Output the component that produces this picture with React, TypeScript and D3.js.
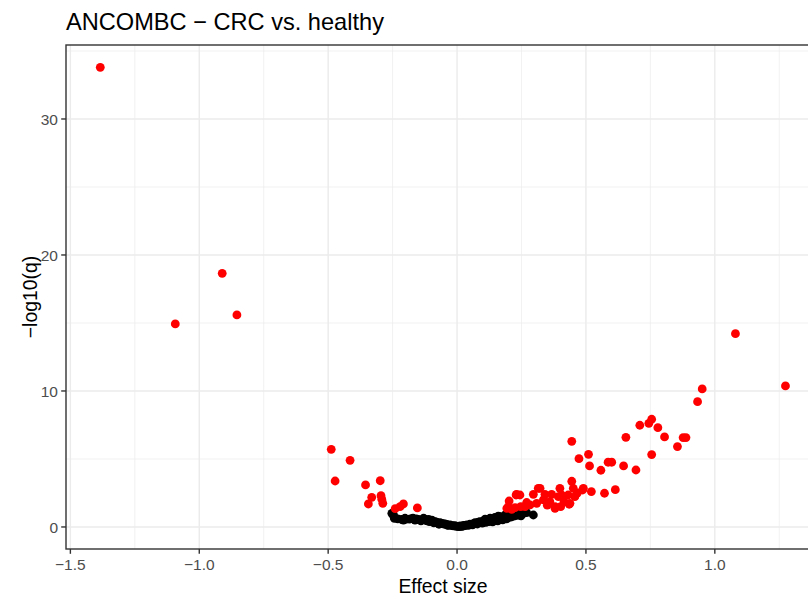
import React, { useEffect, useRef } from "react";
import * as d3 from "d3";

// effect size (lfc) and -log10(q) for significant taxa
const sigEffect = [
  -1.384, -1.093, -0.911, -0.854,
  -0.488, -0.473, -0.415, -0.355, -0.298, -0.331, -0.295, -0.344, -0.288, -0.292, -0.24, -0.208, -0.221, -0.154,
  1.274, 1.08, 0.951, 0.933, 0.755, 0.744, 0.709, 0.779, 0.655, 0.805, 0.877, 0.888, 0.855, 0.445, 0.755, 0.473,
  0.51, 0.514, 0.558, 0.586, 0.6, 0.646, 0.694, 0.445, 0.521, 0.572, 0.614, 0.49, 0.435,
  0.231, 0.202, 0.199, 0.247, 0.296, 0.315, 0.341, 0.367, 0.335, 0.283, 0.264, 0.309, 0.36, 0.38, 0.399, 0.393,
  0.451, 0.431, 0.466, 0.487, 0.438, 0.415, 0.38, 0.402, 0.322, 0.406, 0.457, 0.244, 0.212, 0.225, 0.27, 0.35,
  0.193, 0.229
];
const sigLogQ = [
  33.8, 14.93, 18.65, 15.59,
  5.71, 3.38, 4.9, 3.09, 3.4, 2.18, 2.3, 1.69, 1.74, 2.04, 1.35, 1.69, 1.49, 1.4,
  10.37, 14.21, 10.15, 9.21, 7.92, 7.62, 7.48, 7.3, 6.59, 6.62, 6.57, 6.57, 5.91, 6.3, 5.32, 5.02,
  5.34, 4.49, 4.17, 4.76, 4.76, 4.49, 4.19, 3.36, 2.6, 2.48, 2.74, 2.84, 1.67,
  2.4, 1.91, 1.49, 1.49, 2.4, 2.84, 2.4, 2.4, 1.99, 1.62, 1.49, 1.74, 1.86, 1.49, 2.84, 2.23,
  2.84, 2.35, 2.48, 2.72, 1.74, 1.86, 1.37, 1.49, 2.84, 2.35, 2.23, 2.35, 1.3, 1.42, 1.8, 1.6,
  1.37, 2.35
];

// non-significant taxa
const nsEffect = [
  -0.253, -0.249, -0.247, -0.244, -0.243, -0.23, -0.215, -0.208, -0.202, -0.198, -0.176, -0.171, -0.163,
  -0.15, -0.14, -0.13, -0.124, -0.118, -0.11, -0.105, -0.098, -0.095, -0.09, -0.085, -0.075, -0.07, -0.066,
  -0.058, -0.047, -0.04, -0.033, -0.027, -0.02, -0.014, -0.008, -0.003, 0.004, 0.012, 0.018, 0.025, 0.031,
  0.038, 0.044, 0.05, 0.057, 0.064, 0.07, 0.076, 0.083, 0.089, 0.095, 0.102, 0.109, 0.115, 0.122, 0.128,
  0.134, 0.141, 0.147, 0.153, 0.16, 0.167, 0.173, 0.18, 0.186, 0.192, 0.199, 0.205, 0.212, 0.218, 0.225,
  0.232, 0.238, 0.244, 0.251, 0.257, 0.264, 0.296,
  -0.185, -0.158, -0.122, -0.112, -0.08, -0.062, -0.052, -0.036, 0.008, 0.022, 0.06, 0.079, 0.098, 0.112,
  0.125, 0.138, 0.15, 0.158, 0.165, 0.177, 0.184, 0.196, 0.208, 0.22, 0.236, 0.248, 0.27
];
const nsLogQ = [
  1.0, 1.0, 0.88, 0.71, 0.64, 0.6, 0.55, 0.51, 0.64, 0.57, 0.61, 0.64, 0.51,
  0.55, 0.45, 0.64, 0.57, 0.47, 0.55, 0.39, 0.51, 0.45, 0.3, 0.39, 0.3, 0.2, 0.32,
  0.25, 0.22, 0.18, 0.14, 0.15, 0.1, 0.08, 0.1, 0.05, 0.04, 0.07, 0.05, 0.12, 0.1,
  0.15, 0.12, 0.2, 0.18, 0.25, 0.32, 0.28, 0.35, 0.39, 0.33, 0.45, 0.57, 0.5, 0.4, 0.64,
  0.55, 0.48, 0.71, 0.62, 0.8, 0.76, 0.55, 0.68, 0.88, 0.6, 0.95, 1.0, 0.78, 0.9, 1.13,
  0.85, 1.13, 1.05, 0.92, 1.0, 1.13, 0.88,
  0.58, 0.6, 0.5, 0.42, 0.36, 0.27, 0.22, 0.12, 0.02, 0.06, 0.16, 0.22, 0.28, 0.34,
  0.42, 0.38, 0.5, 0.45, 0.6, 0.52, 0.7, 0.66, 0.72, 0.8, 0.98, 0.82, 1.05
];

const xTicks = [-1.5, -1.0, -0.5, 0.0, 0.5, 1.0];
const xMinor = [-1.25, -0.75, -0.25, 0.25, 0.75, 1.25];
const yTicks = [0, 10, 20, 30];
const yMinor = [5, 15, 25, 35];

const W = 808;
const H = 597;
const panel = { left: 66, right: 820, top: 45, bottom: 549 };
const font = "'Liberation Sans', Arial, Helvetica, sans-serif";
const minus = (s: string) => s.replace("-", "\u2212");

const App = () => {
  const ref = useRef<SVGGElement>(null);

  useEffect(() => {
    const x = d3.scaleLinear().domain([-1.517, 1.408]).range([panel.left, panel.right]);
    const y = d3.scaleLinear().domain([-1.62, 35.44]).range([panel.bottom, panel.top]);
    const g = d3.select(ref.current);
    g.selectAll("*").remove();

    const clip = g.append("defs").append("clipPath").attr("id", "panel-clip");
    clip
      .append("rect")
      .attr("x", panel.left)
      .attr("y", panel.top)
      .attr("width", panel.right - panel.left)
      .attr("height", panel.bottom - panel.top);

    const grid = g.append("g").attr("clip-path", "url(#panel-clip)");
    const vline = (data: number[], w: number) =>
      grid
        .append("g")
        .selectAll("line")
        .data(data)
        .enter()
        .append("line")
        .attr("x1", d => x(d))
        .attr("x2", d => x(d))
        .attr("y1", panel.top)
        .attr("y2", panel.bottom)
        .attr("stroke", "#ebebeb")
        .attr("stroke-width", w);
    const hline = (data: number[], w: number) =>
      grid
        .append("g")
        .selectAll("line")
        .data(data)
        .enter()
        .append("line")
        .attr("x1", panel.left)
        .attr("x2", panel.right)
        .attr("y1", d => y(d))
        .attr("y2", d => y(d))
        .attr("stroke", "#ebebeb")
        .attr("stroke-width", w);
    vline(xMinor, 0.7);
    hline(yMinor, 0.7);
    vline(xTicks, 1.4);
    hline(yTicks, 1.4);

    const pts = g.append("g").attr("clip-path", "url(#panel-clip)");
    pts
      .append("g")
      .selectAll("circle")
      .data(d3.zip(nsEffect, nsLogQ))
      .enter()
      .append("circle")
      .attr("cx", d => x(d[0]))
      .attr("cy", d => y(d[1]))
      .attr("r", 4.4)
      .attr("fill", "black");
    pts
      .append("g")
      .selectAll("circle")
      .data(d3.zip(sigEffect, sigLogQ))
      .enter()
      .append("circle")
      .attr("cx", d => x(d[0]))
      .attr("cy", d => y(d[1]))
      .attr("r", 4.4)
      .attr("fill", "red");

    g.append("rect")
      .attr("x", panel.left)
      .attr("y", panel.top)
      .attr("width", panel.right - panel.left)
      .attr("height", panel.bottom - panel.top)
      .attr("fill", "none")
      .attr("stroke", "#333333")
      .attr("stroke-width", 1.4);

    // x axis
    const xa = g.append("g");
    xa.selectAll("line")
      .data(xTicks)
      .enter()
      .append("line")
      .attr("x1", d => x(d))
      .attr("x2", d => x(d))
      .attr("y1", panel.bottom)
      .attr("y2", panel.bottom + 4.8)
      .attr("stroke", "#333333")
      .attr("stroke-width", 1.4);
    xa.selectAll("text")
      .data(xTicks)
      .enter()
      .append("text")
      .attr("x", d => x(d))
      .attr("y", 570)
      .attr("text-anchor", "middle")
      .style("font-family", font)
      .style("font-size", "15.5px")
      .style("fill", "#4d4d4d")
      .text(d => minus(d3.format(".1f")(d)));

    // y axis
    const ya = g.append("g");
    ya.selectAll("line")
      .data(yTicks)
      .enter()
      .append("line")
      .attr("x1", panel.left - 4.8)
      .attr("x2", panel.left)
      .attr("y1", d => y(d))
      .attr("y2", d => y(d))
      .attr("stroke", "#333333")
      .attr("stroke-width", 1.4);
    ya.selectAll("text")
      .data(yTicks)
      .enter()
      .append("text")
      .attr("x", panel.left - 8)
      .attr("y", d => y(d))
      .attr("dy", "0.36em")
      .attr("text-anchor", "end")
      .style("font-family", font)
      .style("font-size", "15.5px")
      .style("fill", "#4d4d4d")
      .text(d => String(d));

    g.append("text")
      .attr("x", (panel.left + panel.right) / 2)
      .attr("y", 593)
      .attr("text-anchor", "middle")
      .style("font-family", font)
      .style("font-size", "19.4px")
      .style("fill", "black")
      .text("Effect size");

    g.append("text")
      .attr("transform", `translate(37 ${(panel.top + panel.bottom) / 2}) rotate(-90)`)
      .attr("text-anchor", "middle")
      .style("font-family", font)
      .style("font-size", "19.4px")
      .style("fill", "black")
      .text("\u2212log10(q)");

    g.append("text")
      .attr("x", panel.left)
      .attr("y", 30)
      .style("font-family", font)
      .style("font-size", "23.6px")
      .style("fill", "black")
      .text("ANCOMBC \u2212 CRC vs. healthy");
  }, []);

  return (
    <svg width={W} height={H} style={{ position: "absolute", left: 0, top: 0, background: "white" }}>
      <g ref={ref} />
    </svg>
  );
};

export default App;
